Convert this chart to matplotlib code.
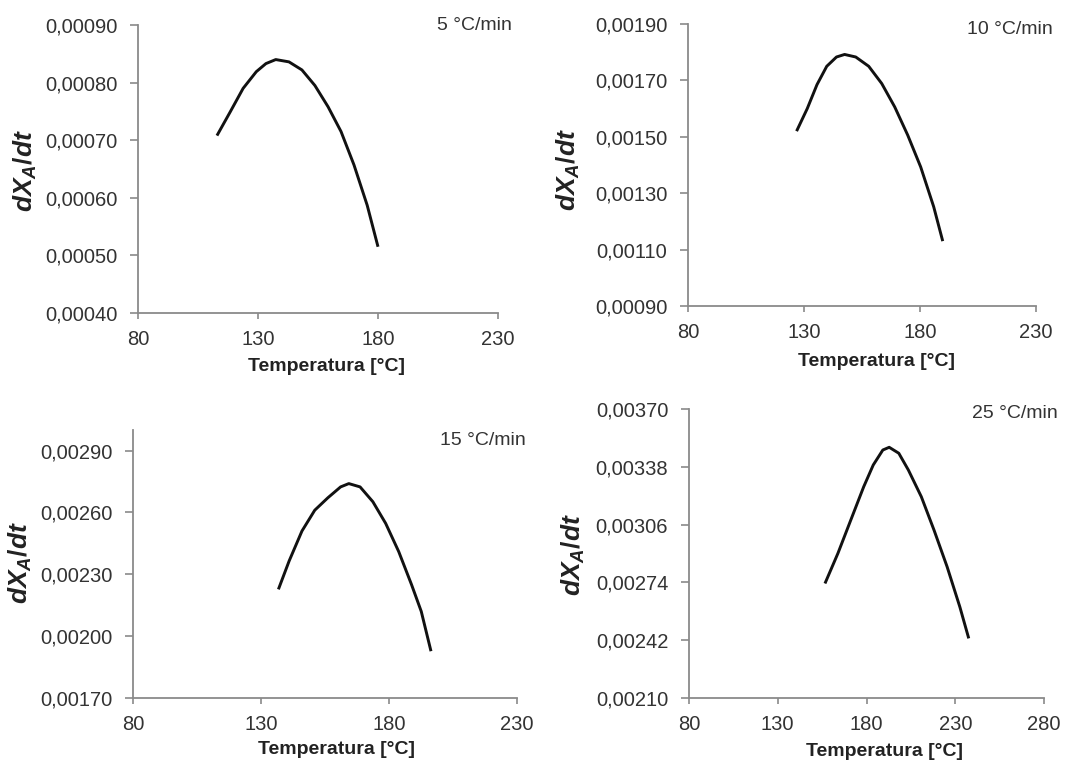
import numpy as np
import matplotlib
matplotlib.use("Agg")
import matplotlib.pyplot as plt
from matplotlib.ticker import FuncFormatter

plt.rcParams['font.family'] = ['Liberation Sans', 'DejaVu Sans']
plt.rcParams['mathtext.fontset'] = 'custom'
plt.rcParams['mathtext.it'] = 'Liberation Sans:italic:bold'
plt.rcParams['mathtext.rm'] = 'Liberation Sans:bold'

# values, one curve per heating rate
rates = ['5 °C/min', '10 °C/min', '15 °C/min', '25 °C/min']

temp_5 = [112.9, 118.4, 123.8, 129.3, 133.3, 137.4, 142.9, 148.3, 153.7, 159.2, 164.6, 170.0, 175.5, 180.0]
rate_5 = [0.000708, 0.000749, 0.000790, 0.000819, 0.000833, 0.000840, 0.000836, 0.000822,
          0.000795, 0.000758, 0.000715, 0.000657, 0.000587, 0.000515]

temp_10 = [126.8, 131.4, 135.6, 139.8, 144.0, 147.5, 152.3, 157.9, 163.5, 169.1, 174.7, 180.3, 185.9, 189.8]
rate_10 = [0.001520, 0.001600, 0.001685, 0.001750, 0.001783, 0.001792, 0.001783, 0.001750,
           0.001689, 0.001606, 0.001506, 0.001393, 0.001252, 0.001130]

temp_15 = [136.8, 141.0, 146.0, 151.0, 156.1, 161.1, 164.3, 168.7, 173.7, 178.7, 183.8, 188.8, 192.6, 196.4]
rate_15 = [0.002227, 0.002365, 0.002510, 0.002611, 0.002671, 0.002724, 0.002740, 0.002724,
           0.002652, 0.002547, 0.002410, 0.002250, 0.002120, 0.001927]

temp_25 = [156.6, 163.9, 171.1, 178.4, 183.8, 189.2, 192.8, 198.2, 203.6, 210.9, 218.1, 225.4, 232.6, 237.6]
rate_25 = [0.002734, 0.002901, 0.003084, 0.003269, 0.003390, 0.003473, 0.003488, 0.003455,
           0.003362, 0.003214, 0.003028, 0.002827, 0.002604, 0.002430]

xticks_a = [80, 130, 180, 230]
xticks_b = [80, 130, 180, 230, 280]
yticks_5 = [0.0004, 0.0005, 0.0006, 0.0007, 0.0008, 0.0009]
yticks_10 = [0.0009, 0.0011, 0.0013, 0.0015, 0.0017, 0.0019]
yticks_15 = [0.0017, 0.0020, 0.0023, 0.0026, 0.0029]
yticks_25 = [0.0021, 0.00242, 0.00274, 0.00306, 0.00338, 0.0037]

W, H = 1080, 762
fig = plt.figure(figsize=(W / 100, H / 100), dpi=100)

def px_box(x0, x1, y0, y1):
    return [x0 / W, 1 - y1 / H, (x1 - x0) / W, (y1 - y0) / H]

# (axes box in px, ylim, xlim, xlabel centre, ylabel centre, rate text position)
panels = [
    (px_box(138, 498, 25, 313), (0.0004, 0.0009), (80, 230), (326, 367), (25, 171), (437, 25)),
    (px_box(688, 1036, 24, 306), (0.0009, 0.0019), (80, 230), (877, 362), (568, 170), (967, 30)),
    (px_box(133, 517, 430, 698), (0.0017, 0.0030), (80, 230), (336, 750), (20, 563), (440, 440)),
    (px_box(689, 1044, 409, 698), (0.0021, 0.0037), (80, 280), (884, 752), (573, 555), (972, 413)),
]
series = [(temp_5, rate_5, yticks_5, xticks_a), (temp_10, rate_10, yticks_10, xticks_a),
          (temp_15, rate_15, yticks_15, xticks_a), (temp_25, rate_25, yticks_25, xticks_b)]

axis_grey = '#8a8a8a'
fmt = FuncFormatter(lambda v, p: f'{v:.5f}'.replace('.', ','))

for (box, ylim, xlim, xl, yl, tp), (tx, ty, yt, xt), lab in zip(panels, series, rates):
    ax = fig.add_axes(box)
    ax.plot(tx, ty, color='#111111', lw=2.1, solid_joinstyle='round', solid_capstyle='butt')
    ax.set_xlim(*xlim)
    ax.set_ylim(*ylim)
    ax.set_xticks(xt)
    ax.set_yticks(yt)
    ax.yaxis.set_major_formatter(fmt)
    for s in ['top', 'right']:
        ax.spines[s].set_visible(False)
    for s in ['left', 'bottom']:
        ax.spines[s].set_color(axis_grey)
        ax.spines[s].set_linewidth(1.3)
    ax.tick_params(axis='both', direction='out', color=axis_grey, width=1.2,
                   labelsize=14.5, labelcolor='#333333')
    ax.tick_params(axis='y', length=6, pad=9)
    ax.tick_params(axis='x', length=4, pad=8)
    fig.text(xl[0] / W, 1 - xl[1] / H, 'Temperatura [°C]', ha='center', va='center',
             fontsize=14, fontweight='bold', color='#222222')
    fig.text(yl[0] / W, 1 - yl[1] / H, r'$dX_A/dt$', ha='center', va='center',
             rotation=90, fontsize=19, color='#222222')
    fig.text(tp[0] / W, 1 - tp[1] / H, lab, ha='left', va='center',
             fontsize=14, color='#333333')

fig.savefig('out.png', dpi=100, facecolor='white')
